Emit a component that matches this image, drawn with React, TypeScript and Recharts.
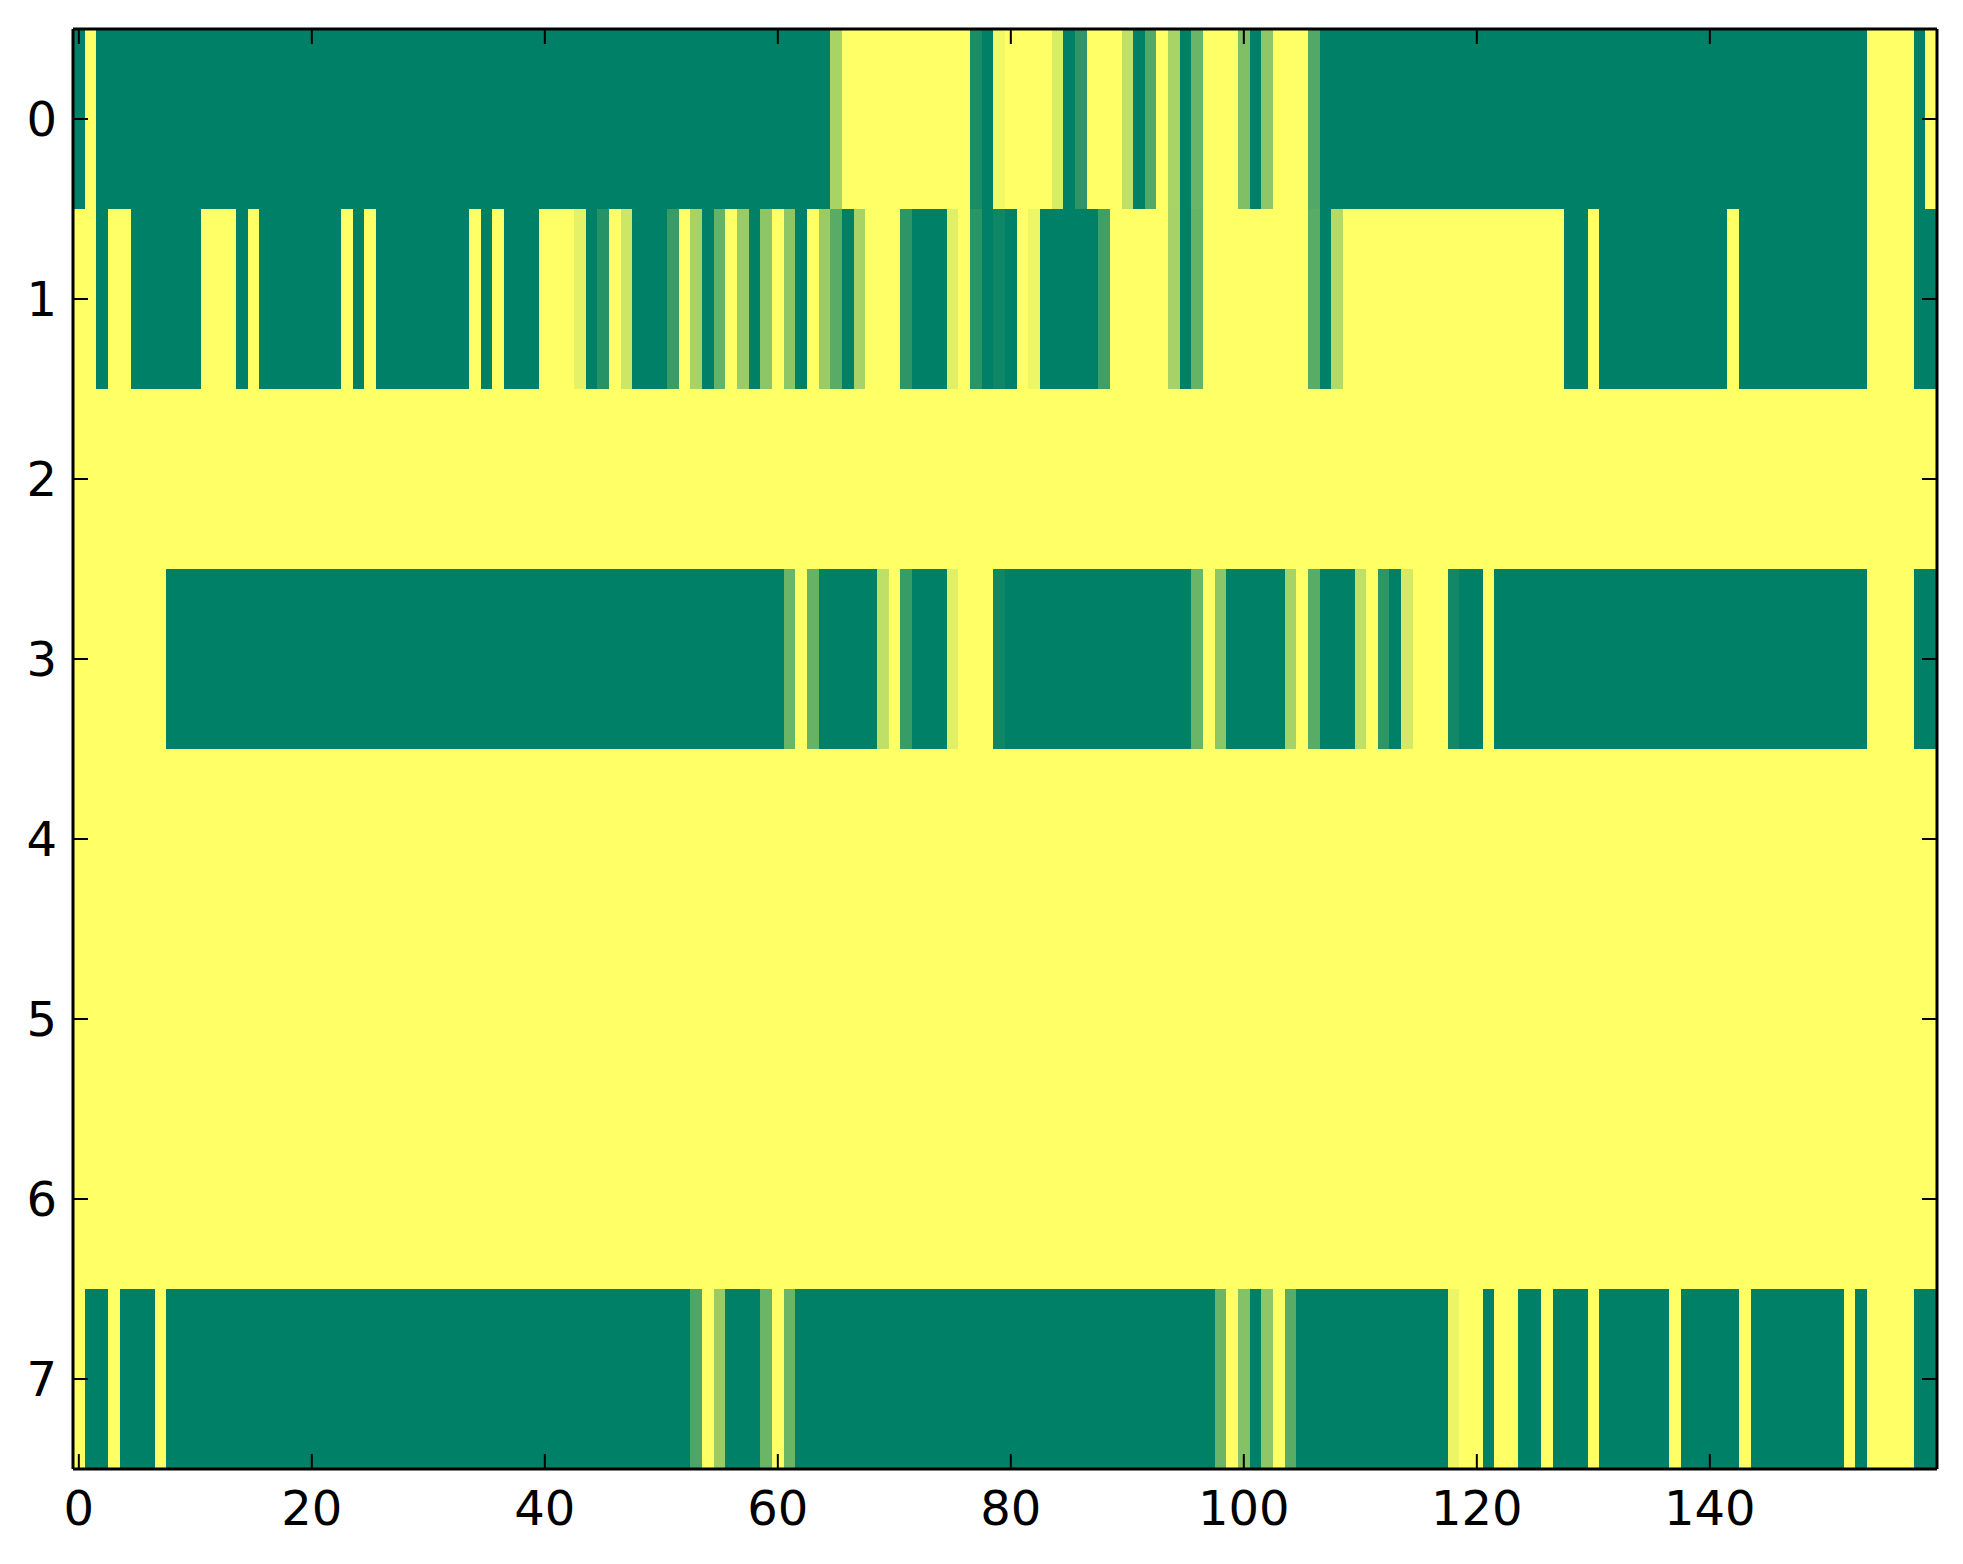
import React from "react";
import { BarChart, Bar, XAxis, YAxis, Cell } from "recharts";

// image rows (0 = green end of the "summer" colormap, 1 = yellow end)
const row0 = [
  0, 1, 0, 0, 0, 0, 0, 0, 0, 0, 0, 0, 0, 0, 0, 0, 0, 0, 0, 0,
  0, 0, 0, 0, 0, 0, 0, 0, 0, 0, 0, 0, 0, 0, 0, 0, 0, 0, 0, 0,
  0, 0, 0, 0, 0, 0, 0, 0, 0, 0, 0, 0, 0, 0, 0, 0, 0, 0, 0, 0,
  0, 0, 0, 0, 0, 0.66, 1, 1, 1, 1, 1, 1, 1, 1, 1, 1, 1, 0.1, 0, 0.95,
  1, 1, 1, 1, 0.85, 0, 0.18, 1, 1, 1, 0.75, 0, 0.32, 1, 0.66, 0, 0.42, 1, 1, 1,
  0.5, 0, 0.56, 1, 1, 1, 0.32, 0, 0, 0, 0, 0, 0, 0, 0, 0, 0, 0, 0, 0,
  0, 0, 0, 0, 0, 0, 0, 0, 0, 0, 0, 0, 0, 0, 0, 0, 0, 0, 0, 0,
  0, 0, 0, 0, 0, 0, 0, 0, 0, 0, 0, 0, 0, 0, 1, 1, 1, 1, 0, 1,
];
const row1 = [
  1, 1, 0, 1, 1, 0, 0, 0, 0, 0, 0, 1, 1, 1, 0, 1, 0, 0, 0, 0,
  0, 0, 0, 1, 0, 1, 0, 0, 0, 0, 0, 0, 0, 0, 1, 0, 1, 0, 0, 0,
  1, 1, 1, 0.9, 0, 0.15, 1, 0.8, 0, 0, 0, 0.22, 1, 0.65, 0, 0.4, 1, 0.6, 0, 0.55,
  1, 0.55, 0, 1, 0.6, 0.35, 0, 0.65, 1, 1, 1, 0.18, 0, 0, 0, 0.88, 1, 0.16, 0, 0.06,
  0, 1, 0.93, 0, 0, 0, 0, 0, 0.25, 1, 1, 1, 1, 1, 0.65, 0, 0.4, 1, 1, 1,
  1, 1, 1, 1, 1, 1, 0.35, 0, 0.7, 1, 1, 1, 1, 1, 1, 1, 1, 1, 1, 1,
  1, 1, 1, 1, 1, 1, 1, 1, 0, 0, 1, 0, 0, 0, 0, 0, 0, 0, 0, 0,
  0, 0, 1, 0, 0, 0, 0, 0, 0, 0, 0, 0, 0, 0, 1, 1, 1, 1, 0, 0,
];
const row2 = [
  1, 1, 1, 1, 1, 1, 1, 1, 1, 1, 1, 1, 1, 1, 1, 1, 1, 1, 1, 1,
  1, 1, 1, 1, 1, 1, 1, 1, 1, 1, 1, 1, 1, 1, 1, 1, 1, 1, 1, 1,
  1, 1, 1, 1, 1, 1, 1, 1, 1, 1, 1, 1, 1, 1, 1, 1, 1, 1, 1, 1,
  1, 1, 1, 1, 1, 1, 1, 1, 1, 1, 1, 1, 1, 1, 1, 1, 1, 1, 1, 1,
  1, 1, 1, 1, 1, 1, 1, 1, 1, 1, 1, 1, 1, 1, 1, 1, 1, 1, 1, 1,
  1, 1, 1, 1, 1, 1, 1, 1, 1, 1, 1, 1, 1, 1, 1, 1, 1, 1, 1, 1,
  1, 1, 1, 1, 1, 1, 1, 1, 1, 1, 1, 1, 1, 1, 1, 1, 1, 1, 1, 1,
  1, 1, 1, 1, 1, 1, 1, 1, 1, 1, 1, 1, 1, 1, 1, 1, 1, 1, 1, 1,
];
const row3 = [
  1, 1, 1, 1, 1, 1, 1, 1, 0, 0, 0, 0, 0, 0, 0, 0, 0, 0, 0, 0,
  0, 0, 0, 0, 0, 0, 0, 0, 0, 0, 0, 0, 0, 0, 0, 0, 0, 0, 0, 0,
  0, 0, 0, 0, 0, 0, 0, 0, 0, 0, 0, 0, 0, 0, 0, 0, 0, 0, 0, 0,
  0, 0.42, 1, 0.4, 0, 0, 0, 0, 0, 0.75, 1, 0.22, 0, 0, 0, 0.88, 1, 1, 1, 0.06,
  0, 0, 0, 0, 0, 0, 0, 0, 0, 0, 0, 0, 0, 0, 0, 0, 0.42, 1, 0.55, 0,
  0, 0, 0, 0, 0.65, 1, 0.35, 0, 0, 0, 0.75, 1, 0.18, 0, 0.83, 1, 1, 1, 0.07, 0,
  0, 1, 0, 0, 0, 0, 0, 0, 0, 0, 0, 0, 0, 0, 0, 0, 0, 0, 0, 0,
  0, 0, 0, 0, 0, 0, 0, 0, 0, 0, 0, 0, 0, 0, 1, 1, 1, 1, 0, 0,
];
const row4 = [
  1, 1, 1, 1, 1, 1, 1, 1, 1, 1, 1, 1, 1, 1, 1, 1, 1, 1, 1, 1,
  1, 1, 1, 1, 1, 1, 1, 1, 1, 1, 1, 1, 1, 1, 1, 1, 1, 1, 1, 1,
  1, 1, 1, 1, 1, 1, 1, 1, 1, 1, 1, 1, 1, 1, 1, 1, 1, 1, 1, 1,
  1, 1, 1, 1, 1, 1, 1, 1, 1, 1, 1, 1, 1, 1, 1, 1, 1, 1, 1, 1,
  1, 1, 1, 1, 1, 1, 1, 1, 1, 1, 1, 1, 1, 1, 1, 1, 1, 1, 1, 1,
  1, 1, 1, 1, 1, 1, 1, 1, 1, 1, 1, 1, 1, 1, 1, 1, 1, 1, 1, 1,
  1, 1, 1, 1, 1, 1, 1, 1, 1, 1, 1, 1, 1, 1, 1, 1, 1, 1, 1, 1,
  1, 1, 1, 1, 1, 1, 1, 1, 1, 1, 1, 1, 1, 1, 1, 1, 1, 1, 1, 1,
];
const row5 = [
  1, 1, 1, 1, 1, 1, 1, 1, 1, 1, 1, 1, 1, 1, 1, 1, 1, 1, 1, 1,
  1, 1, 1, 1, 1, 1, 1, 1, 1, 1, 1, 1, 1, 1, 1, 1, 1, 1, 1, 1,
  1, 1, 1, 1, 1, 1, 1, 1, 1, 1, 1, 1, 1, 1, 1, 1, 1, 1, 1, 1,
  1, 1, 1, 1, 1, 1, 1, 1, 1, 1, 1, 1, 1, 1, 1, 1, 1, 1, 1, 1,
  1, 1, 1, 1, 1, 1, 1, 1, 1, 1, 1, 1, 1, 1, 1, 1, 1, 1, 1, 1,
  1, 1, 1, 1, 1, 1, 1, 1, 1, 1, 1, 1, 1, 1, 1, 1, 1, 1, 1, 1,
  1, 1, 1, 1, 1, 1, 1, 1, 1, 1, 1, 1, 1, 1, 1, 1, 1, 1, 1, 1,
  1, 1, 1, 1, 1, 1, 1, 1, 1, 1, 1, 1, 1, 1, 1, 1, 1, 1, 1, 1,
];
const row6 = [
  1, 1, 1, 1, 1, 1, 1, 1, 1, 1, 1, 1, 1, 1, 1, 1, 1, 1, 1, 1,
  1, 1, 1, 1, 1, 1, 1, 1, 1, 1, 1, 1, 1, 1, 1, 1, 1, 1, 1, 1,
  1, 1, 1, 1, 1, 1, 1, 1, 1, 1, 1, 1, 1, 1, 1, 1, 1, 1, 1, 1,
  1, 1, 1, 1, 1, 1, 1, 1, 1, 1, 1, 1, 1, 1, 1, 1, 1, 1, 1, 1,
  1, 1, 1, 1, 1, 1, 1, 1, 1, 1, 1, 1, 1, 1, 1, 1, 1, 1, 1, 1,
  1, 1, 1, 1, 1, 1, 1, 1, 1, 1, 1, 1, 1, 1, 1, 1, 1, 1, 1, 1,
  1, 1, 1, 1, 1, 1, 1, 1, 1, 1, 1, 1, 1, 1, 1, 1, 1, 1, 1, 1,
  1, 1, 1, 1, 1, 1, 1, 1, 1, 1, 1, 1, 1, 1, 1, 1, 1, 1, 1, 1,
];
const row7 = [
  1, 0, 0, 1, 0, 0, 0, 1, 0, 0, 0, 0, 0, 0, 0, 0, 0, 0, 0, 0,
  0, 0, 0, 0, 0, 0, 0, 0, 0, 0, 0, 0, 0, 0, 0, 0, 0, 0, 0, 0,
  0, 0, 0, 0, 0, 0, 0, 0, 0, 0, 0, 0, 0, 0.3, 1, 0.6, 0, 0, 0, 0.42,
  1, 0.42, 0, 0, 0, 0, 0, 0, 0, 0, 0, 0, 0, 0, 0, 0, 0, 0, 0, 0,
  0, 0, 0, 0, 0, 0, 0, 0, 0, 0, 0, 0, 0, 0, 0, 0, 0, 0, 0.42, 1,
  0.52, 0, 0.56, 1, 0.35, 0, 0, 0, 0, 0, 0, 0, 0, 0, 0, 0, 0, 0, 0.92, 1,
  1, 0, 1, 1, 0, 0, 1, 0, 0, 0, 1, 0, 0, 0, 0, 0, 0, 1, 0, 0,
  0, 0, 0, 1, 0, 0, 0, 0, 0, 0, 0, 0, 1, 0, 1, 1, 1, 1, 0, 0,
];

const rows = [row0, row1, row2, row3, row4, row5, row6, row7];
const rowLabels = ["0", "1", "2", "3", "4", "5", "6", "7"];
const xTicks = [0, 20, 40, 60, 80, 100, 120, 140];

// matplotlib "summer": r = v, g = 0.5 + v/2, b = 0.4
const summer = (v: number) => {
  const r = Math.round(255 * v);
  const g = Math.round(255 * (0.5 + v / 2));
  return `rgb(${r},${g},102)`;
};

const nCols = row0.length;
const colKeys = row0.map((_, i) => `c${i}`);

// each cell is one unit wide; a leading -0.5 shift puts column i at [i-0.5, i+0.5]
const data = rows.map((vals, r) => {
  const d: Record<string, number | string> = { row: rowLabels[r], shift: -0.5 };
  vals.forEach((_, i) => (d[colKeys[i]] = 1));
  return d;
});

const FONT = "DejaVu Sans";
const TICK = 15;

const BottomTick = ({ x, y, payload }: any) => (
  <g>
    <line x1={x} x2={x} y1={y} y2={y - TICK} stroke="#000" strokeWidth={2} />
    <text x={x} y={y + 56} textAnchor="middle" fontSize={48} fontFamily={FONT} fill="#000">
      {payload.value}
    </text>
  </g>
);
const TopTick = ({ x, y }: any) => (
  <line x1={x} x2={x} y1={y} y2={y + TICK} stroke="#000" strokeWidth={2} />
);
const LeftTick = ({ x, y, payload }: any) => (
  <g>
    <line x1={x} x2={x + TICK} y1={y} y2={y} stroke="#000" strokeWidth={2} />
    <text x={x - 16} y={y} textAnchor="end" dominantBaseline="central" fontSize={48} fontFamily={FONT} fill="#000">
      {payload.value}
    </text>
  </g>
);
const RightTick = ({ x, y }: any) => (
  <line x1={x} x2={x - TICK} y1={y} y2={y} stroke="#000" strokeWidth={2} />
);

const frame = { stroke: "#000", strokeWidth: 3 };

export default function App() {
  return (
    <div style={{ position: "absolute", left: 0, top: 0, background: "#fff" }}>
      <BarChart
        width={1963}
        height={1564}
        data={data}
        layout="vertical"
        margin={{ top: 0, right: 0, bottom: 0, left: 0 }}
        barCategoryGap={0}
        barGap={0}
        stackOffset="none"
      >
        <Bar dataKey="shift" stackId="img" fill="none" isAnimationActive={false} />
        {colKeys.map((key, i) => (
          <Bar key={key} dataKey={key} stackId="img" isAnimationActive={false}>
            {rows.map((vals, r) => (
              <Cell key={r} fill={summer(vals[i])} shapeRendering="crispEdges" />
            ))}
          </Bar>
        ))}
        <XAxis
          type="number"
          domain={[-0.5, nCols - 0.5]}
          allowDataOverflow
          ticks={xTicks}
          interval={0}
          height={95}
          tickSize={0}
          tickMargin={0}
          axisLine={frame}
          tickLine={false}
          tick={<BottomTick />}
        />
        <XAxis
          xAxisId="top"
          orientation="top"
          type="number"
          domain={[-0.5, nCols - 0.5]}
          allowDataOverflow
          ticks={xTicks}
          interval={0}
          height={29}
          tickSize={0}
          tickMargin={0}
          axisLine={frame}
          tickLine={false}
          tick={<TopTick />}
        />
        <YAxis
          type="category"
          dataKey="row"
          width={73}
          interval={0}
          tickSize={0}
          tickMargin={0}
          axisLine={frame}
          tickLine={false}
          tick={<LeftTick />}
        />
        <YAxis
          yAxisId="right"
          orientation="right"
          type="category"
          dataKey="row"
          width={26}
          interval={0}
          tickSize={0}
          tickMargin={0}
          axisLine={frame}
          tickLine={false}
          tick={<RightTick />}
        />
      </BarChart>
    </div>
  );
}
